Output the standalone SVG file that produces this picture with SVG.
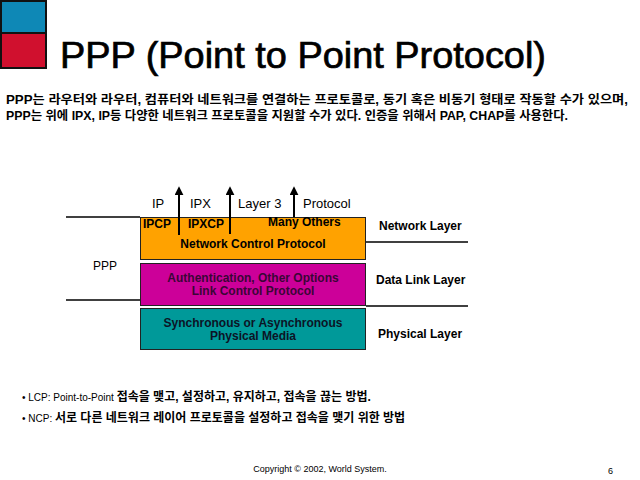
<svg xmlns="http://www.w3.org/2000/svg" width="640" height="480" viewBox="0 0 640 480">
<style>
.t{font-family:"Liberation Sans",Arial,sans-serif;fill:#000}
.b{font-weight:bold}
.k{font-family:"Liberation Sans","Noto Sans CJK KR",sans-serif;font-weight:bold;font-size:12px;fill:#000}
.box{stroke:#222;stroke-width:1}
.ln{stroke:#000;stroke-width:1.5}
.arr{stroke:#000;stroke-width:2;marker-end:url(#ah)}
.pur{fill:#3A0636}
.nav{fill:#0C1426}
</style>
<defs>
<marker id="ah" viewBox="0 0 10 10" refX="8" refY="5" markerWidth="4.5" markerHeight="4.5" orient="auto" markerUnits="strokeWidth">
<path d="M0,0 L10,5 L0,10 Z" fill="#000"/>
</marker>
</defs>
<rect width="640" height="480" fill="#fff"/>
<g id="logo">
<rect x="0" y="0" width="47" height="69" fill="#111"/>
<rect x="2" y="2" width="43" height="30" fill="#0E88B6"/>
<rect x="2" y="34" width="43" height="33" fill="#D0102E"/>
</g>
<text class="t" x="60" y="68" font-size="36" stroke="#000" stroke-width="0.7" textLength="486" lengthAdjust="spacingAndGlyphs">PPP (Point to Point Protocol)</text>
<text class="k" x="6" y="104" textLength="622" lengthAdjust="spacingAndGlyphs">PPP는 라우터와 라우터, 컴퓨터와 네트워크를 연결하는 프로토콜로, 동기 혹은 비동기 형태로 작동할 수가  있으며,</text>
<text class="k" x="6" y="120" textLength="562" lengthAdjust="spacingAndGlyphs">PPP는 위에 IPX, IP등 다양한 네트워크 프로토콜을 지원할 수가 있다. 인증을 위해서 PAP, CHAP를 사용한다.</text>

<g id="connectors">
<line class="ln" x1="66" y1="217" x2="140" y2="217"/>
<line class="ln" x1="66" y1="300" x2="140" y2="300"/>
<line class="ln" x1="366" y1="242" x2="468" y2="242"/>
<line class="ln" x1="366" y1="306" x2="468" y2="306"/>
</g>

<g id="ncp">
<rect class="box" x="140.5" y="217.5" width="225" height="42" fill="#FFA200"/>
<text class="t b" x="143" y="228" font-size="12">IPCP</text>
<text class="t b" x="188" y="228" font-size="12">IPXCP</text>
<text class="t b" x="268" y="226" font-size="12">Many Others</text>
<text class="t b" x="253" y="248" font-size="12" text-anchor="middle">Network Control Protocol</text>
</g>
<g id="lcp">
<rect class="box" x="140.5" y="263.5" width="225" height="42" fill="#CC0099"/>
<text class="t b pur" x="253" y="282" font-size="12" text-anchor="middle">Authentication, Other Options</text>
<text class="t b pur" x="253" y="295" font-size="12" text-anchor="middle">Link Control Protocol</text>
</g>
<g id="phys">
<rect class="box" x="140.5" y="308.5" width="225" height="41" fill="#009999"/>
<text class="t b nav" x="253" y="327" font-size="12" text-anchor="middle">Synchronous or Asynchronous</text>
<text class="t b nav" x="253" y="340" font-size="12" text-anchor="middle">Physical Media</text>
</g>

<g id="arrows">
<line class="arr" x1="179" y1="235" x2="179" y2="188"/>
<line class="arr" x1="230" y1="234" x2="230" y2="188"/>
<line class="arr" x1="294" y1="217" x2="294" y2="188"/>
</g>

<g id="upper-labels">
<text class="t" x="152" y="208" font-size="13">IP</text>
<text class="t" x="190" y="208" font-size="13">IPX</text>
<text class="t" x="238" y="208" font-size="13">Layer 3</text>
<text class="t" x="303" y="208" font-size="13">Protocol</text>
</g>
<text class="t" x="93" y="270" font-size="12">PPP</text>
<g id="layers">
<text class="t b" x="379" y="230" font-size="12">Network Layer</text>
<text class="t b" x="376" y="284" font-size="12">Data Link Layer</text>
<text class="t b" x="378" y="338" font-size="12">Physical Layer</text>
</g>

<text x="22" y="401" font-size="11"><tspan class="t" font-size="10">• LCP: Point-to-Point </tspan><tspan class="k" font-size="11">접속을 맺고, 설정하고, 유지하고, 접속을 끊는 방법.</tspan></text>
<text x="22" y="422" font-size="11"><tspan class="t" font-size="10">• NCP: </tspan><tspan class="k" font-size="11">서로 다른 네트워크 레이어 프로토콜을 설정하고 접속을 맺기 위한 방법</tspan></text>
<text class="t" x="320" y="472" font-size="9" text-anchor="middle">Copyright © 2002, World System.</text>
<text class="t" x="608" y="474" font-size="9">6</text>
</svg>
